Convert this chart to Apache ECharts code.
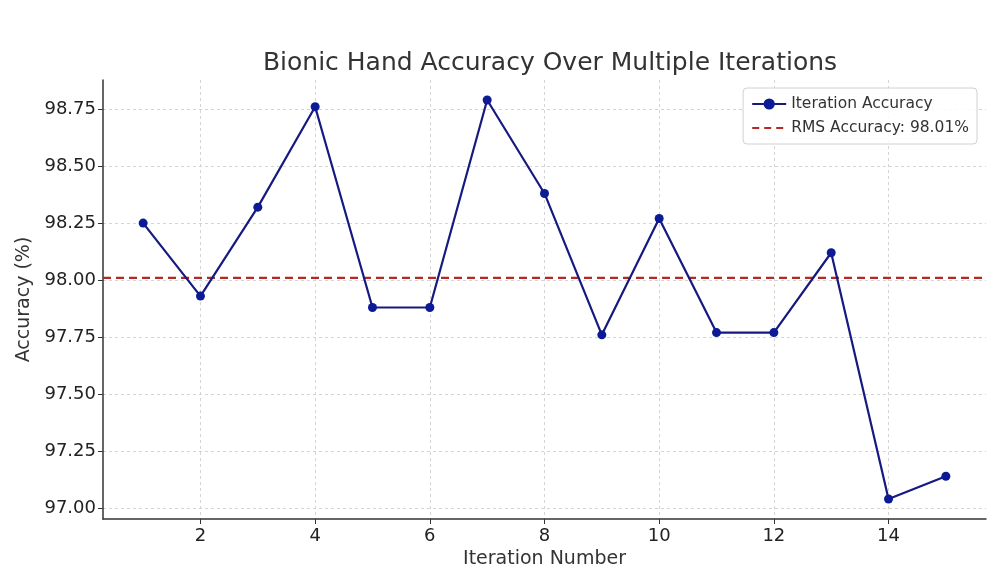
<!DOCTYPE html>
<html>
<head>
<meta charset="utf-8">
<script src="https://cdn.jsdelivr.net/npm/echarts@6/dist/echarts.min.js"></script>
<style>html,body{margin:0;padding:0;background:#fff}#c{width:996px;height:578px}</style>
</head>
<body>
<div id="c"></div>
<script>
const iterations = [1,2,3,4,5,6,7,8,9,10,11,12,13,14,15];
const accuracy = [98.25,97.93,98.32,98.76,97.88,97.88,98.79,98.38,97.76,98.27,97.77,97.77,98.12,97.04,97.14];
const rmsAccuracy = 98.01;
const xTicks = [2,4,6,8,10,12,14];
const yTicks = [97.00,97.25,97.50,97.75,98.00,98.25,98.50,98.75];
const titleText = 'Bionic Hand Accuracy Over Multiple Iterations';
const xName = 'Iteration Number';
const yName = 'Accuracy (%)';
const seriesName = 'Iteration Accuracy';
const rmsName = 'RMS Accuracy: ' + rmsAccuracy.toFixed(2) + '%';

// matplotlib-like 5% margins
const xr = Math.max(...iterations) - Math.min(...iterations);
const xMin = Math.min(...iterations) - 0.05*xr, xMax = Math.max(...iterations) + 0.05*xr;
const yr = Math.max(...accuracy) - Math.min(...accuracy);
const yMin = Math.min(...accuracy) - 0.05*yr, yMax = Math.max(...accuracy) + 0.05*yr;

const FONT = 'DejaVu Sans';
const chart = echarts.init(document.getElementById('c'), null, {renderer:'canvas'});
chart.setOption({
  backgroundColor:'#fff',
  animation:false,
  title:{
    text:titleText, left:545, top:46, textAlign:'center',
    textStyle:{fontFamily:FONT, fontSize:25, fontWeight:'normal', color:'#333'}
  },
  legend:{
    orient:'vertical', right:19, top:88,
    padding:[8,8,8,8], itemGap:8, itemWidth:34, itemHeight:14,
    borderColor:'#d0d0d0', borderWidth:1, borderRadius:4, backgroundColor:'rgba(255,255,255,0.85)',
    textStyle:{fontFamily:FONT, fontSize:15.5, color:'#333'},
    data:[
      {name:seriesName},
      {name:rmsName, itemStyle:{opacity:0}, lineStyle:{type:[7,5], width:2.2, color:'#b22a22'}}
    ]
  },
  grid:{left:103, right:10, top:80, bottom:59, containLabel:false},
  xAxis:{
    type:'value', min:xMin, max:xMax,
    name:xName, nameLocation:'middle', nameGap:27,
    nameTextStyle:{fontFamily:FONT, fontSize:19, color:'#333'},
    axisLine:{show:true, onZero:false, lineStyle:{color:'#333', width:1.5}},
    axisTick:{show:true, length:5, customValues:xTicks, lineStyle:{color:'#333'}},
    axisLabel:{customValues:xTicks, fontFamily:FONT, fontSize:18, color:'#222', margin:8, formatter:v=>String(v)},
    splitLine:{show:true, lineStyle:{color:'#d4d4d4', type:[3,3], width:1}}
  },
  yAxis:{
    type:'value', min:yMin, max:yMax,
    name:yName, nameLocation:'middle', nameGap:56, nameRotate:90,
    nameTextStyle:{fontFamily:FONT, fontSize:19, color:'#333'},
    axisLine:{show:true, onZero:false, lineStyle:{color:'#333', width:1.5}},
    axisTick:{show:true, length:5, customValues:yTicks, lineStyle:{color:'#333'}},
    axisLabel:{customValues:yTicks, fontFamily:FONT, fontSize:18, color:'#222', margin:7, formatter:v=>v.toFixed(2)},
    splitLine:{show:true, lineStyle:{color:'#d4d4d4', type:[3,3], width:1}}
  },
  series:[
    {
      name:seriesName, type:'line',
      data:iterations.map((x,i)=>[x, accuracy[i]]),
      symbol:'circle', symbolSize:9,
      lineStyle:{color:'#161a80', width:2.2},
      itemStyle:{color:'#0c1a96'},
      z:3
    },
    {
      name:rmsName, type:'line',
      data:[[xMin, rmsAccuracy],[xMax, rmsAccuracy]],
      symbol:'none',
      lineStyle:{color:'#b22a22', width:2.2, type:[8,5]},
      itemStyle:{color:'#b22a22'},
      z:2
    }
  ]
});
</script>
</body>
</html>
